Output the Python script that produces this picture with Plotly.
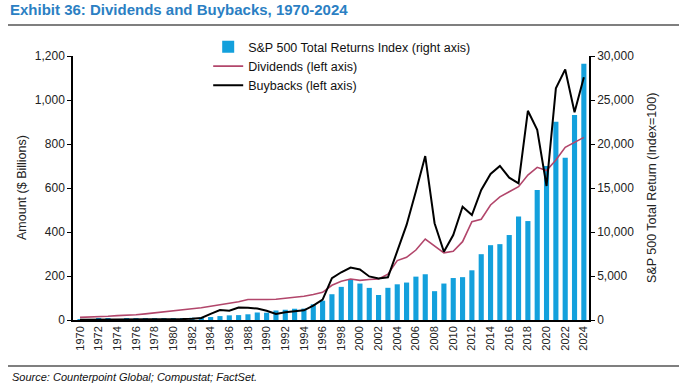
import plotly.graph_objects as go

years = list(range(1970, 2025))

# S&P 500 total returns index (1970 = 100), right axis
sp500_tr = [100, 114, 136, 116, 85, 117, 145, 134, 143, 170,
            225, 214, 259, 318, 338, 446, 529, 557, 650, 855,
            827, 1081, 1164, 1280, 1297, 1784, 2195, 2928, 3765, 4556,
            4141, 3649, 2842, 3658, 4057, 4256, 4928, 5199, 3275, 4143,
            4769, 4869, 5648, 7478, 8502, 8621, 9656, 11761, 11243, 14785,
            17505, 22529, 18451, 23304, 29130]

# Dividends ($ billions), left axis
dividends = [12, 13, 14, 17, 20, 21, 24, 28, 32, 37,
             42, 47, 51, 56, 62, 68, 74, 83, 93, 92,
             93, 94, 98, 103, 108, 116, 126, 158, 176, 186,
             180, 184, 187, 208, 270, 285, 318, 368, 335, 305,
             312, 356, 447, 458, 523, 560, 583, 606, 659, 694,
             679, 727, 785, 806, 830]

# Buybacks ($ billions), left axis
buybacks = [1, 1, 1, 1, 1, 1, 1, 2, 2, 3,
            3, 4, 6, 9, 28, 45, 42, 57, 56, 52,
            42, 27, 35, 39, 44, 65, 93, 190, 217, 238,
            230, 198, 189, 194, 315, 432, 585, 745, 440, 310,
            386, 515, 477, 591, 664, 700, 647, 621, 951, 864,
            609, 1053, 1139, 944, 1103]

left_ticks = [0, 200, 400, 600, 800, 1000, 1200]
right_ticks = [0, 5000, 10000, 15000, 20000, 25000, 30000]
x_ticks = list(range(1970, 2025, 2))

FONT = "Liberation Sans, Arial, sans-serif"

fig = go.Figure()
fig.add_trace(go.Bar(x=years, y=sp500_tr, name="S&P 500 Total Returns Index (right axis)",
                     marker=dict(color="#13a0dc", line=dict(width=0)), width=0.55, yaxis="y"))
fig.add_trace(go.Scatter(x=years, y=dividends, name="Dividends (left axis)", mode="lines",
                         line=dict(color="#b2466b", width=1.6), yaxis="y2"))
fig.add_trace(go.Scatter(x=years, y=buybacks, name="Buybacks (left axis)", mode="lines",
                         line=dict(color="#000000", width=2), yaxis="y2"))

axis_common = dict(showgrid=False, zeroline=False, showline=True, linecolor="black", linewidth=1.5,
                   ticks="outside", ticklen=4, tickcolor="black",
                   tickfont=dict(family=FONT, size=12, color="#222"))

fig.update_layout(
    width=679, height=388,
    margin=dict(l=73, r=90, t=56, b=68),
    paper_bgcolor="white", plot_bgcolor="white",
    font=dict(family=FONT, color="#222"),
    showlegend=True,
    legend=dict(x=0.262, y=1.09, xanchor="left", yanchor="top", bgcolor="rgba(0,0,0,0)",
                font=dict(family=FONT, size=12.5, color="#111"), tracegroupgap=0,
                itemwidth=30),
    bargap=0.45,
    xaxis=dict(range=[1969.25, 2024.55], tickvals=x_ticks, ticktext=[str(t) for t in x_ticks],
               tickangle=-90, showgrid=False, zeroline=False, showline=True, linecolor="black",
               linewidth=1.5, ticks="", tickfont=dict(family=FONT, size=11, color="#222")),
    yaxis=dict(range=[0, 30000], side="right", tickvals=right_ticks,
               ticktext=[f"{v:,}" for v in right_ticks], **axis_common),
    yaxis2=dict(range=[0, 1200], side="left", overlaying="y", tickvals=left_ticks,
                ticktext=[f"{v:,}" for v in left_ticks], **axis_common),
    title=dict(text="<b>Exhibit 36: Dividends and Buybacks, 1970-2024</b>",
               x=10/679, xref="container", xanchor="left",
               y=1-4/388, yref="container", yanchor="top",
               font=dict(family=FONT, size=15, color="#2b7fc3")),
)

# horizontal rules
fig.add_shape(type="line", xref="paper", yref="paper", x0=(8-73)/516, x1=(679-73)/516,
              y0=(320-25)/264, y1=(320-25)/264, line=dict(color="black", width=1.2))
fig.add_shape(type="line", xref="paper", yref="paper", x0=(8-73)/516, x1=(679-73)/516,
              y0=(320-366)/264, y1=(320-366)/264, line=dict(color="black", width=1.2))

fig.add_annotation(text="<i>Source: Counterpoint Global; Compustat; FactSet.</i>", xref="paper", yref="paper",
                   x=(10-73)/516, y=(320-377)/264, xanchor="left", yanchor="middle", showarrow=False,
                   font=dict(family=FONT, size=11, color="#111"))

fig.add_annotation(text="Amount ($ Billions)", xref="paper", yref="paper",
                   x=(22-73)/516, y=0.5, xanchor="center", yanchor="middle", textangle=-90,
                   showarrow=False, font=dict(family=FONT, size=12.5, color="#222"))
fig.add_annotation(text="S&P 500 Total Return (Index=100)", xref="paper", yref="paper",
                   x=(652-73)/516, y=0.5, xanchor="center", yanchor="middle", textangle=-90,
                   showarrow=False, font=dict(family=FONT, size=12.5, color="#222"))

fig.write_html("out.html", config={"displayModeBar": False},
               post_script="document.body.style.margin='0';document.body.style.overflow='hidden';")
